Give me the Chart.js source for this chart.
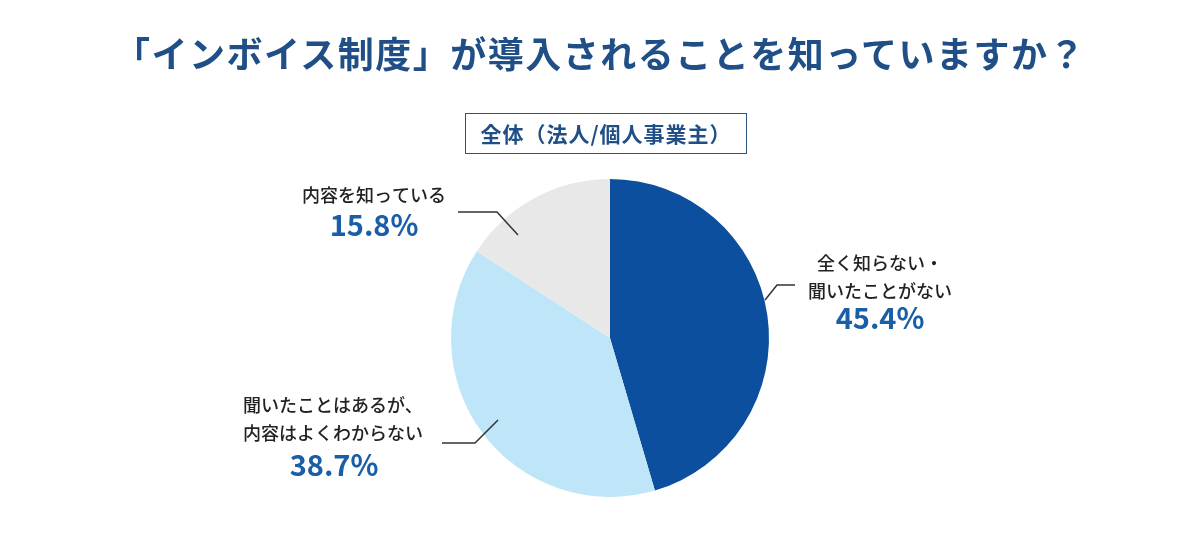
<!DOCTYPE html>
<html>
<head>
<meta charset="utf-8">
<script src="https://cdn.jsdelivr.net/npm/chart.js@4.4.1/dist/chart.umd.min.js"></script>
<style>
  html, body { margin: 0; padding: 0; background: #fff; }
  #wrap { position: relative; width: 1200px; height: 549px; font-family: "Noto Sans CJK JP", "Noto Sans", sans-serif; }
  #title { position: absolute; left: 0; top: 26px; width: 1200px; text-align: center; font-size: 36px; font-weight: 700; color: #1f4f86; letter-spacing: 1.5px; }
  #sub { position: absolute; left: 465px; top: 113px; width: 280px; height: 39px; border: 1.5px solid #2a5580; text-align: center; line-height: 39px; font-size: 21px; font-weight: 700; color: #1f4f86; letter-spacing: 1px; }
  canvas { position: absolute; left: 0; top: 0; }
</style>
</head>
<body>
<div id="wrap">
  <canvas id="chart" width="1200" height="549"></canvas>
  <div id="title">「インボイス制度」が導入されることを知っていますか？</div>
  <div id="sub">全体（法人/個人事業主）</div>
</div>
<script>
// data
var categories = ["全く知らない・\n聞いたことがない", "聞いたことはあるが、\n内容はよくわからない", "内容を知っている"];
var values = [45.4, 38.7, 15.8];
var colors = ["#0b4f9e", "#bfe6f8", "#e8e8e8"];

// label layout, offsets from pie center (px)
var labelLayout = [
  { line: [[155, -38], [167, -53], [185, -53]], align: "center", tx: 270, ty: -75, px: 270, py: -20 },
  { line: [[-112, 82], [-135, 105], [-168, 105]], align: "left", tx: -367, ty: 67, px: -276, py: 127 },
  { line: [[-92, -103], [-113, -126], [-152, -126]], align: "center", tx: -236, ty: -143, px: -236, py: -113 }
];

var calloutPlugin = {
  id: "callouts",
  afterDatasetsDraw: function(chart) {
    var ctx = chart.ctx;
    var meta = chart.getDatasetMeta(0);
    meta.data.forEach(function(arc, i) {
      var L = labelLayout[i];
      var cx = arc.x, cy = arc.y;
      ctx.save();
      ctx.strokeStyle = "#333";
      ctx.lineWidth = 1.5;
      ctx.beginPath();
      L.line.forEach(function(p, k) {
        if (k === 0) ctx.moveTo(cx + p[0], cy + p[1]);
        else ctx.lineTo(cx + p[0], cy + p[1]);
      });
      ctx.stroke();

      ctx.fillStyle = "#222";
      ctx.font = "500 18px 'Noto Sans CJK JP'";
      ctx.textAlign = L.align;
      ctx.textBaseline = "middle";
      var lines = categories[i].split("\n");
      lines.forEach(function(t, k) {
        ctx.fillText(t, cx + L.tx, cy + L.ty + k * 28);
      });

      ctx.fillStyle = "#1b5ea8";
      ctx.font = "700 29px 'Noto Sans CJK JP'";
      ctx.textAlign = "center";
      ctx.fillText(values[i].toFixed(1) + "%", cx + L.px, cy + L.py);
      ctx.restore();
    });
  }
};

new Chart(document.getElementById("chart"), {
  type: "pie",
  data: {
    labels: categories,
    datasets: [{
      data: values,
      backgroundColor: colors,
      borderWidth: 0
    }]
  },
  options: {
    responsive: false,
    animation: false,
    layout: { padding: { left: 451, right: 431, top: 179, bottom: 52 } },
    plugins: {
      legend: { display: false },
      tooltip: { enabled: false }
    }
  },
  plugins: [calloutPlugin]
});
</script>
</body>
</html>
